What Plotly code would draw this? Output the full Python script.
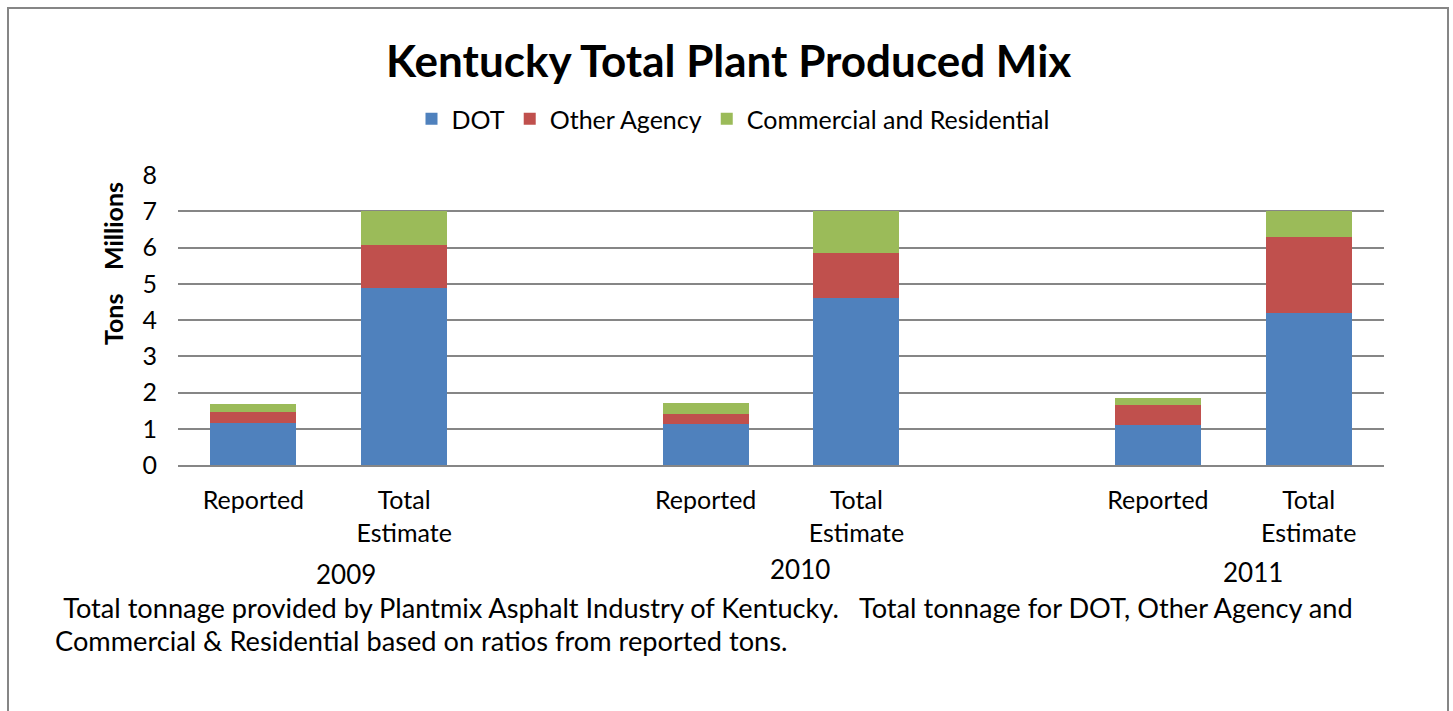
import plotly.graph_objects as go

# ---- data (millions of tons) ----
years = ["2009", "2010", "2011"]
slot_x = [0, 1, 3, 4, 6, 7]          # category slots (empty slot between years)
dot = [1.17, 4.89, 1.12, 4.62, 1.10, 4.18]
other_agency = [0.30, 1.17, 0.30, 1.23, 0.55, 2.11]
commercial = [0.22, 0.94, 0.29, 1.15, 0.19, 0.71]
tick_labels = ["Reported", "Total<br>Estimate"] * 3
y_ticks = [0, 1, 2, 3, 4, 5, 6, 7, 8]

W, H = 1453, 711
L, R, T, B = 178, 69, 175, 246
PW, PH = W - L - R, H - T - B

def px(X):
    return (X - L) / PW

def py(Y):
    return (H - B - Y) / PH

FONT = "Lato, Carlito, Calibri, sans-serif"

fig = go.Figure()
series = [("DOT", dot, "#4F81BD"),
          ("Other Agency", other_agency, "#C0504D"),
          ("Commercial and Residential", commercial, "#9BBB59")]
for name, vals, col in series:
    fig.add_trace(go.Bar(x=slot_x, y=vals, name=name, width=0.57,
                         marker=dict(color=col, line=dict(width=0))))

fig.update_layout(
    width=W, height=H, barmode="stack",
    margin=dict(l=L, r=R, t=T, b=B, autoexpand=False),
    paper_bgcolor="white", plot_bgcolor="white",
    font=dict(family=FONT, size=25, color="black"),
    showlegend=True,
    legend=dict(orientation="h", x=px(733), xanchor="center", y=py(119), yanchor="middle",
                font=dict(size=25), itemwidth=30, traceorder="normal",
                bgcolor="rgba(0,0,0,0)"),
    xaxis=dict(range=[-0.5, 7.5], tickmode="array", tickvals=slot_x, ticktext=tick_labels,
               showgrid=False, zeroline=False, showline=True, linecolor="#868686", linewidth=2,
               ticks="outside", ticklen=12, tickcolor="rgba(0,0,0,0)", tickfont=dict(size=25)),
    yaxis=dict(range=[0, 8], tickmode="array", tickvals=y_ticks,
               showgrid=True, gridcolor="#868686", gridwidth=2, zeroline=False,
               showline=False, ticks="", tickfont=dict(size=25), ticklabelstandoff=20),
)

anns = [
    dict(text="<b>Kentucky Total Plant Produced Mix</b>", x=px(728), y=py(60),
         font=dict(size=44)),
    dict(text="<b>Millions</b>", x=px(113), y=py(226), textangle=-90, font=dict(size=25)),
    dict(text="<b>Tons</b>", x=px(113), y=py(320), textangle=-90, font=dict(size=25)),
    dict(text=years[0], x=px(346), y=py(574), font=dict(size=26)),
    dict(text=years[1], x=px(800), y=py(569), font=dict(size=26)),
    dict(text=years[2], x=px(1253), y=py(572), font=dict(size=26)),
    dict(text=" Total tonnage provided by Plantmix Asphalt Industry of Kentucky.   Total tonnage for DOT, Other Agency and",
         x=px(55), y=py(607), xanchor="left", font=dict(size=27.2)),
    dict(text="Commercial &amp; Residential based on ratios from reported tons.",
         x=px(53), y=py(640), xanchor="left", font=dict(size=27.2)),
]
for a in anns:
    a.setdefault("xanchor", "center")
    fig.add_annotation(xref="paper", yref="paper", showarrow=False, yanchor="middle", **a)

fig.add_shape(type="rect", xref="paper", yref="paper",
              x0=px(8), x1=px(1448), y0=py(730), y1=py(8),
              line=dict(color="#868686", width=2), fillcolor="rgba(0,0,0,0)", layer="below")

fig.write_html("out.html", config={"displayModeBar": False},
               post_script="document.body.style.margin='0';document.body.style.overflow='hidden';")
